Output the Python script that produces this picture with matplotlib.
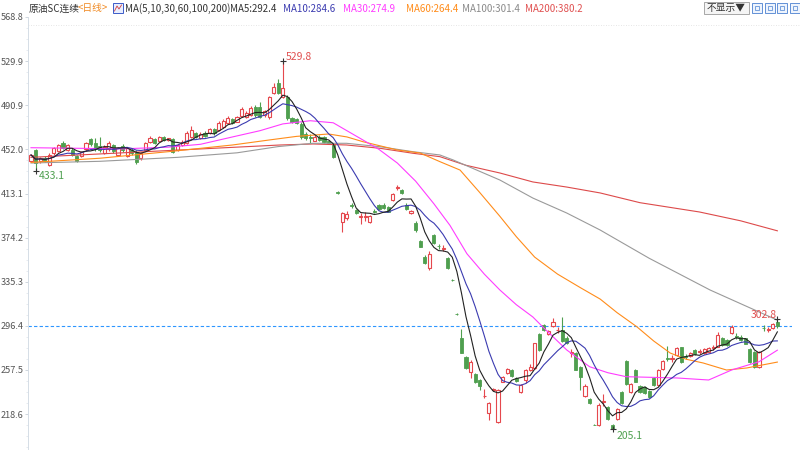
import numpy as np
import pandas as pd
import matplotlib
matplotlib.use("Agg")
import matplotlib.pyplot as plt
from matplotlib.patches import Rectangle
from matplotlib.lines import Line2D

# --------------------------------------------------
# 1. Candle data
# --------------------------------------------------
opens = [442.2, 451.5, 441.5, 444.7, 438.3, 448.5, 451.0, 458.0, 451.5, 451.5,
         446.0, 446.2, 452.0, 460.9, 457.4, 455.0, 449.1, 452.0, 455.9, 447.0,
         455.0, 446.2, 451.5, 450.0, 444.1, 451.5, 458.8, 460.9, 459.7, 462.6,
         460.3, 460.9, 451.5, 455.9, 457.4, 463.2, 466.2, 461.8, 466.7, 466.2,
         469.7, 469.1, 472.1, 475.6, 478.5, 476.5, 481.5, 480.9, 482.3, 489.1,
         489.7, 482.0, 480.9, 501.5, 510.3, 498.5, 498.5, 479.4, 478.5, 474.4,
         465.6, 463.0, 459.7, 463.0, 462.7, 459.0, 455.9, 414.5, 388.3, 391.2,
         402.6, 398.6, 392.6, 392.8, 388.3, 398.0, 403.0, 403.0, 401.5, 407.4,
         418.2, 416.2, 403.0, 395.6, 387.4, 371.2, 357.4, 347.1, 376.5, 367.2,
         364.4, 355.9, 337.2, 306.9, 285.4, 268.6, 255.4, 253.6, 248.6, 234.2,
         219.2, 240.1, 211.8, 247.1, 254.5, 257.4, 250.0, 238.3, 248.6, 257.4,
         258.9, 289.2, 297.1, 289.2, 296.2, 292.5, 292.7, 286.0, 272.5, 272.1,
         260.4, 234.5, 231.5, 209.2, 208.9, 229.3, 224.5, 208.9, 213.9, 238.3,
         265.7, 238.3, 257.4, 243.3, 242.1, 239.2, 250.1, 244.2, 258.0, 267.9,
         267.5, 270.7, 277.4, 269.4, 269.8, 275.1, 273.4, 272.1, 273.6, 277.2,
         278.0, 285.4, 284.0, 290.4, 287.0, 286.8, 285.4, 275.7, 273.6, 259.8,
         294.4, 293.1, 294.8, 300.1]
highs = [448.0, 452.5, 445.0, 446.0, 448.5, 454.0, 457.0, 459.5, 457.0, 453.0,
         447.0, 451.0, 458.5, 462.0, 461.8, 463.0, 456.0, 459.0, 457.0, 454.0,
         456.5, 454.0, 453.0, 451.5, 450.0, 458.5, 463.5, 462.0, 464.0, 463.5,
         462.5, 462.0, 457.0, 460.0, 468.0, 472.5, 467.5, 467.0, 468.0, 471.0,
         471.0, 477.0, 478.5, 481.5, 479.5, 481.5, 489.0, 485.5, 490.0, 491.0,
         493.5, 487.0, 499.5, 510.5, 514.0, 529.8, 500.0, 481.0, 480.0, 476.0,
         467.0, 466.0, 464.5, 465.0, 463.5, 460.0, 457.0, 415.0, 396.5, 398.0,
         405.0, 399.5, 395.5, 397.0, 394.5, 399.5, 404.0, 404.5, 402.5, 413.5,
         420.5, 417.0, 404.5, 398.5, 389.0, 372.5, 358.5, 362.7, 377.5, 369.0,
         367.5, 357.0, 338.0, 307.5, 293.3, 269.5, 266.0, 254.5, 249.5, 240.4,
         229.0, 241.5, 240.5, 252.5, 259.0, 258.0, 251.0, 245.0, 258.0, 263.0,
         281.5, 290.0, 298.0, 293.0, 303.0, 295.0, 304.5, 287.0, 276.0, 273.0,
         261.0, 245.0, 232.5, 210.0, 228.0, 236.0, 225.5, 210.0, 223.5, 239.0,
         266.5, 246.0, 258.0, 244.0, 243.0, 240.0, 251.0, 258.0, 266.5, 278.5,
         271.0, 277.5, 278.0, 271.5, 273.5, 276.0, 276.0, 276.5, 277.5, 279.5,
         291.0, 286.5, 285.0, 297.0, 290.0, 288.5, 286.0, 276.5, 274.5, 274.5,
         297.5, 295.5, 298.5, 302.8]
lows = [441.0, 433.1, 440.0, 441.0, 437.5, 447.5, 450.0, 452.0, 450.5, 446.0,
        440.5, 445.0, 451.0, 455.0, 451.0, 450.0, 448.0, 451.0, 449.0, 446.0,
        450.0, 445.0, 447.0, 439.5, 443.0, 450.5, 458.0, 457.0, 459.0, 459.5,
        459.5, 449.0, 450.5, 455.0, 456.5, 462.5, 462.0, 461.0, 463.0, 465.5,
        465.0, 468.0, 471.0, 475.0, 474.0, 476.0, 480.5, 480.0, 481.5, 481.0,
        479.4, 481.0, 479.0, 500.5, 501.0, 497.0, 478.0, 475.5, 474.0, 461.0,
        460.5, 458.0, 459.0, 459.5, 458.0, 456.5, 444.0, 413.0, 379.4, 390.0,
        400.0, 395.0, 386.5, 389.0, 387.5, 396.0, 398.5, 399.0, 396.5, 406.5,
        416.5, 413.0, 398.5, 395.0, 379.5, 365.5, 351.0, 346.0, 368.5, 364.5,
        362.5, 346.5, 336.0, 306.0, 272.0, 258.0, 250.0, 246.0, 239.8, 232.4,
        213.3, 239.0, 211.0, 246.5, 254.0, 251.5, 247.0, 237.0, 246.0, 256.5,
        258.0, 274.5, 292.0, 288.5, 295.5, 290.0, 282.0, 280.5, 269.0, 257.0,
        240.0, 233.5, 227.0, 208.5, 208.0, 226.0, 213.0, 205.1, 213.0, 227.0,
        244.5, 237.5, 246.5, 237.5, 236.0, 233.0, 243.5, 243.5, 257.5, 265.0,
        264.5, 270.0, 264.0, 267.0, 269.0, 271.0, 271.5, 271.5, 273.0, 275.5,
        277.5, 279.0, 279.0, 289.5, 285.0, 283.0, 280.0, 264.0, 259.0, 259.0,
        291.5, 291.0, 294.0, 294.5]
closes = [447.1, 439.7, 444.0, 442.0, 447.1, 453.0, 456.0, 453.0, 456.0, 447.0,
          442.0, 450.0, 457.4, 456.8, 452.0, 451.5, 454.4, 457.4, 450.9, 453.0,
          451.5, 453.0, 448.5, 441.2, 449.1, 457.4, 461.8, 457.9, 462.6, 460.3,
          461.8, 450.0, 455.9, 458.8, 466.7, 469.1, 463.2, 465.6, 463.8, 469.7,
          466.2, 475.6, 477.3, 480.0, 475.0, 480.3, 487.4, 484.4, 488.2, 482.3,
          481.0, 485.5, 498.3, 507.4, 502.1, 505.9, 479.4, 476.5, 475.0, 462.7,
          461.8, 462.2, 463.3, 460.0, 458.8, 457.5, 445.6, 413.9, 395.6, 394.7,
          402.2, 395.6, 393.4, 393.6, 393.5, 396.8, 399.2, 400.0, 397.1, 412.7,
          418.5, 413.5, 399.1, 397.7, 380.9, 366.2, 352.1, 359.4, 369.2, 366.8,
          364.8, 347.1, 336.8, 306.5, 272.7, 258.9, 264.8, 246.5, 243.3, 234.6,
          228.0, 240.5, 239.8, 251.5, 258.0, 252.1, 248.0, 244.2, 257.4, 260.4,
          280.9, 275.1, 292.7, 292.1, 300.0, 292.9, 283.0, 281.0, 272.9, 257.4,
          251.5, 243.5, 228.0, 208.9, 226.6, 229.7, 213.9, 205.8, 222.7, 228.0,
          245.1, 245.1, 247.1, 238.3, 236.8, 233.9, 244.2, 257.4, 265.7, 267.5,
          267.9, 276.5, 264.8, 269.0, 272.7, 271.5, 273.8, 275.7, 276.5, 277.6,
          288.3, 279.5, 279.5, 295.1, 286.8, 283.9, 280.4, 264.8, 259.8, 273.6,
          294.2, 293.3, 297.7, 296.4]

# long moving averages, read at a few points along each line
ma30_idx = [0, 10, 20, 30, 37, 44, 50, 55, 61, 66, 72.5, 76, 80, 84, 88, 91.5,
            95.2, 99, 102.4, 106, 109.6, 111.8, 117, 122, 126, 130, 141, 148,
            153, 159, 163]
ma30_val = [453.5, 453.0, 452.5, 454.0, 456.5, 463.0, 468.5, 474.5, 477.3, 475.5,
            460.3, 452.0, 440.0, 424.0, 404.0, 385.0, 360.0, 342.0, 328.0, 315.0,
            304.2, 295.3, 275.1, 260.3, 255.0, 251.5, 250.4, 248.6, 257.4, 264.7,
            274.9]
ma60_idx = [0, 15, 30, 44, 52, 58, 65, 69, 72.5, 80, 85, 89.3, 93.7, 98, 102.4,
            106, 110, 115, 120, 124.3, 128, 132.3, 136, 139.6, 143, 146.8, 151.9,
            156.3, 163]
ma60_val = [440.5, 444.2, 450.0, 455.9, 460.3, 463.5, 465.6, 463.0, 458.8, 451.5,
            448.8, 441.2, 433.8, 414.0, 393.0, 375.0, 357.0, 342.0, 330.0, 320.0,
            308.0, 295.6, 283.0, 272.4, 267.0, 263.6, 257.4, 259.2, 264.4]
ma100_idx = [0, 15, 32, 45, 54, 61.6, 68.9, 76.2, 83.4, 89.3, 92.2, 102.4, 109.6,
             117, 124.3, 135, 148.3, 163]
ma100_val = [440.0, 441.5, 445.0, 449.0, 454.5, 457.4, 457.4, 454.4, 450.0, 447.1,
             442.7, 425.0, 409.1, 395.9, 380.9, 356.0, 328.0, 301.4]
ma200_idx = [0, 15, 32.5, 54.4, 61.6, 68.9, 76.2, 83.4, 89.3, 95, 102.4, 109.6,
             117, 124.3, 133, 146, 155, 163]
ma200_val = [445.0, 448.0, 451.5, 455.9, 456.8, 455.9, 453.0, 448.6, 445.6, 438.0,
             431.2, 423.3, 418.8, 413.6, 405.0, 396.8, 389.0, 380.2]

tick_values = [568.8, 529.9, 490.9, 452.0, 413.1, 374.2, 335.3, 296.4, 257.5, 218.6]
last_price = 296.4

title_items = [("原油SC连续", "#333333", 29), ("<日线>", "#f08a24", 78),
               ("MA(5,10,30,60,100,200)", "#333333", 125),
               ("MA5:292.4", "#333333", 230), ("MA10:284.6", "#3b3bb0", 283),
               ("MA30:274.9", "#ff3cff", 343), ("MA60:264.4", "#ff8c1a", 406),
               ("MA100:301.4", "#8a8a8a", 462), ("MA200:380.2", "#e05050", 525)]

# extremes shown on the chart: (index, value, label, colour)
extremes = [(55, 529.8, "529.8", "#e05050"), (1, 433.1, "433.1", "#4fa050"),
            (127, 205.1, "205.1", "#4fa050"), (163, 302.8, "302.8", "#e05050")]

# --------------------------------------------------
# 2. Figure
# --------------------------------------------------
plt.rcParams['font.family'] = ['Noto Sans CJK SC', 'DejaVu Sans']

RED = "#e5484d"
GREEN = "#4f9f4f"

fig = plt.figure(figsize=(8, 4.5), dpi=100)
ax = fig.add_axes([28 / 800, 0, 764 / 800, 433 / 450])

df = pd.DataFrame({"open": opens, "high": highs, "low": lows, "close": closes})
x = np.arange(len(df))
up = (df["close"] >= df["open"]).values
body_lo = np.minimum(df["open"], df["close"]).values
body_h = np.maximum(np.abs(df["close"] - df["open"]).values, 0.35)

ax.vlines(x[up], df["low"][up], df["high"][up], color=RED, lw=0.8, zorder=2)
ax.vlines(x[~up], df["low"][~up], df["high"][~up], color=GREEN, lw=0.8, zorder=2)
ax.bar(x[up], body_h[up], bottom=body_lo[up], width=0.68, facecolor="white",
       edgecolor=RED, linewidth=0.8, zorder=3)
ax.bar(x[~up], body_h[~up], bottom=body_lo[~up], width=0.68, facecolor=GREEN,
       edgecolor=GREEN, linewidth=0.6, zorder=3)

# moving averages
ma5 = df["close"].rolling(5, min_periods=1).mean()
ma10 = df["close"].rolling(10, min_periods=1).mean()
ax.plot(ma200_idx, ma200_val, color="#dd4a4a", lw=0.8, zorder=4)
ax.plot(ma100_idx, ma100_val, color="#9a9a9a", lw=0.8, zorder=4)
ax.plot(ma60_idx, ma60_val, color="#ff8c1a", lw=0.8, zorder=4)
ax.plot(ma30_idx, ma30_val, color="#ff3cff", lw=0.8, zorder=4)
ax.plot(x, ma10, color="#3b3bb0", lw=0.8, zorder=5)
ax.plot(x, ma5, color="#222222", lw=0.8, zorder=5)

ax.axhline(last_price, color="#2e96ff", lw=0.8, ls=(0, (3, 2)), zorder=1)

for i, v, txt, col in extremes:
    ax.plot(i, v, marker="+", color="#333333", ms=5, mew=0.8, zorder=6)
offsets = {"529.8": (0.7, 4.0, "left"), "433.1": (0.8, -4.2, "left"),
           "205.1": (0.9, -5.9, "left"), "302.8": (-0.2, 3.1, "right")}
for i, v, txt, col in extremes:
    dx, dy, ha = offsets[txt]
    ax.text(i + dx, v + dy, txt, color=col, fontsize=7.5, ha=ha, va="center",
            zorder=6)

ax.set_xlim(-0.655, 166.2)
ax.set_ylim(186.85, 568.8)
ax.set_xticks([])
ax.set_yticks(tick_values)
ax.set_yticklabels([f"{t:.1f}" for t in tick_values])
step = tick_values[0] - tick_values[1]
minor = [t - step * k / 4 for t in tick_values for k in (1, 2, 3)]
ax.set_yticks([m for m in minor if m > 186.85], minor=True)
ax.tick_params(axis="y", which="major", length=2, width=0.6, color="#c8d0d8",
               labelsize=6.6, labelcolor="#555555", pad=1)
ax.tick_params(axis="y", which="minor", length=1.5, width=0.5, color="#dde3ea")
for s in ["top", "right", "bottom"]:
    ax.spines[s].set_visible(False)
ax.spines["left"].set_color("#d5dde6")
ax.spines["left"].set_linewidth(0.7)

# faint dotted line under the header
fig.add_artist(Line2D([28 / 800, 1], [1 - 25 / 450] * 2, transform=fig.transFigure,
                      color="#dddddd", lw=0.6, ls=(0, (1, 2))))

# --------------------------------------------------
# 3. Header
# --------------------------------------------------
def px_rect(x0, y0, w, h, **kw):
    fig.add_artist(Rectangle((x0 / 800, 1 - (y0 + h) / 450), w / 800, h / 450,
                             transform=fig.transFigure, **kw))

for txt, col, xp in title_items:
    fig.text(xp / 800, 1 - 8.5 / 450, txt, color=col, fontsize=7, ha="left",
             va="center")

# small MA icon
px_rect(113, 3, 10, 10, facecolor="#e8eeff", edgecolor="#3c5cc8", lw=0.7)
fig.add_artist(Line2D([114.5 / 800, 117 / 800, 119 / 800, 121.5 / 800],
                      [1 - 11 / 450, 1 - 6 / 450, 1 - 9 / 450, 1 - 5 / 450],
                      transform=fig.transFigure, color="#d04040", lw=0.6))

# "不显示" button and tool icons
px_rect(704, 2, 45, 12, facecolor="#f5f5f5", edgecolor="#9a9a9a", lw=0.6)
fig.text(707 / 800, 1 - 8.5 / 450, "不显示▼", color="#333333", fontsize=7,
         ha="left", va="center")
for xi in (752, 764.5, 777, 789.5):
    px_rect(xi, 3, 10, 10, facecolor="#eef4fd", edgecolor="#4a80d0", lw=0.6)
    px_rect(xi + 3, 6, 4, 4, facecolor="none", edgecolor="#4a80d0", lw=0.5)

fig.savefig("out.png", dpi=100)
